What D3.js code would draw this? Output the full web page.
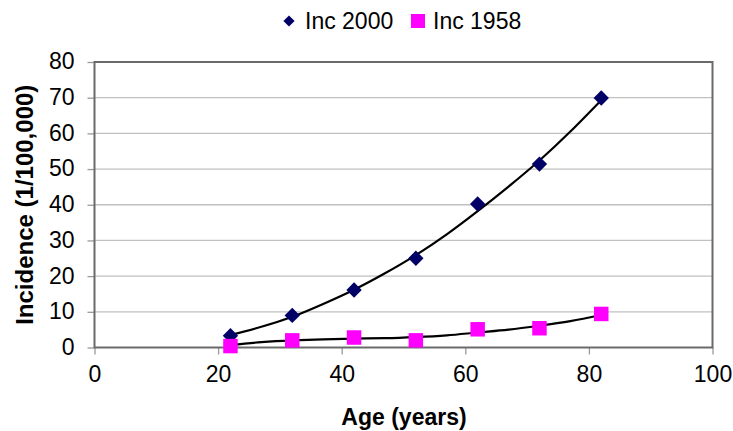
<!DOCTYPE html>
<html>
<head>
<meta charset="utf-8">
<script src="https://cdn.jsdelivr.net/npm/d3@7"></script>
<style>
  html, body { margin: 0; padding: 0; background: #fff; }
  svg { display: block; font-family: "Liberation Sans", Arial, sans-serif; }
</style>
</head>
<body>
<svg id="chart" width="733" height="431"></svg>
<script>
// ---- data ----
const ages = [22, 32, 42, 52, 62, 72, 82];
const inc2000 = [3.3, 9.0, 16.1, 25.0, 40.2, 51.4, 69.9];
const inc1958 = [0.4, 2.0, 2.8, 2.0, 5.1, 5.4, 9.4];
const trendAges = [22, 27, 32, 37, 42, 47, 52, 57, 62, 67, 72, 77, 82];
const trend2000 = [3.5, 5.8, 8.6, 12.2, 16.2, 20.8, 25.9, 31.7, 38.2, 45.1, 52.4, 60.5, 69.3];
const trend1958 = [0.7, 1.5, 2.0, 2.3, 2.5, 2.6, 2.9, 3.4, 4.2, 5.0, 6.1, 7.4, 9.1];
const xTicks = [0, 20, 40, 60, 80, 100];
const yTicks = [0, 10, 20, 30, 40, 50, 60, 70, 80];
const seriesNames = ["Inc 2000", "Inc 1958"];
const xTitle = "Age (years)";
const yTitle = "Incidence (1/100,000)";

// ---- layout ----
const svg = d3.select("#chart");
const L = 94.5, R = 712.5, T = 62, B = 347.5;
const x = d3.scaleLinear().domain([0, 100]).range([L, R]);
const y = d3.scaleLinear().domain([0, 80]).range([B, T]);
const font = 23;

// gridlines
svg.append("g").selectAll("line").data(yTicks.filter(d => d > 0 && d < 80)).join("line")
  .attr("x1", L).attr("x2", R).attr("y1", d => y(d)).attr("y2", d => y(d))
  .attr("stroke", "#c0c0c0").attr("stroke-width", 1.3);

// y axis
const yAxis = svg.append("g").attr("transform", `translate(${L},0)`)
  .call(d3.axisLeft(y).tickValues(yTicks).tickSize(7).tickPadding(13));
yAxis.select(".domain").remove();
yAxis.selectAll(".tick line").attr("stroke", "#9a9a9a").attr("stroke-width", 1.3);
yAxis.selectAll(".tick text").attr("font-size", font).attr("fill", "#000")
  .attr("font-family", "'Liberation Sans', Arial, sans-serif").attr("dy", "0.3em");

// x axis
const xAxis = svg.append("g").attr("transform", `translate(0,${B})`)
  .call(d3.axisBottom(x).tickValues(xTicks).tickSize(7).tickPadding(11));
xAxis.select(".domain").remove();
xAxis.selectAll(".tick line").attr("stroke", "#9a9a9a").attr("stroke-width", 1.3);
xAxis.selectAll(".tick text").attr("font-size", font).attr("fill", "#000")
  .attr("font-family", "'Liberation Sans', Arial, sans-serif");

// plot frame
svg.append("rect").attr("x", L).attr("y", T).attr("width", R - L).attr("height", B - T)
  .attr("fill", "none").attr("stroke", "#6a6a6a").attr("stroke-width", 2);

// trend lines
const line = d3.line().x(d => x(d[0])).y(d => y(d[1])).curve(d3.curveNatural);
[trend2000, trend1958].forEach(t => {
  svg.append("path").datum(trendAges.map((a, i) => [a, t[i]]))
    .attr("d", line).attr("fill", "none").attr("stroke", "#000").attr("stroke-width", 2.2);
});

// markers
const diamond = d3.symbol().type(d3.symbolDiamond2).size(150);
const square = d3.symbol().type(d3.symbolSquare).size(210);
svg.append("g").selectAll("path").data(ages.map((a, i) => [a, inc2000[i]])).join("path")
  .attr("transform", d => `translate(${x(d[0])},${y(d[1])})`)
  .attr("d", diamond).attr("fill", "#000066");
svg.append("g").selectAll("path").data(ages.map((a, i) => [a, inc1958[i]])).join("path")
  .attr("transform", d => `translate(${x(d[0])},${y(d[1])})`)
  .attr("d", square).attr("fill", "#ff00ff");

// legend
const leg = svg.append("g");
leg.append("path").attr("transform", "translate(289,21)").attr("d", d3.symbol().type(d3.symbolDiamond2).size(80)).attr("fill", "#000066");
leg.append("text").attr("x", 305).attr("y", 29).attr("font-size", 23).text(seriesNames[0]);
leg.append("rect").attr("x", 411).attr("y", 14).attr("width", 14).attr("height", 14).attr("fill", "#ff00ff");
leg.append("text").attr("x", 433).attr("y", 29).attr("font-size", 23).text(seriesNames[1]);

// axis titles
svg.append("text").attr("x", 404).attr("y", 425).attr("text-anchor", "middle")
  .attr("font-size", 23).attr("font-weight", "bold").text(xTitle);
svg.append("text").attr("transform", `translate(33,${(T + B) / 2}) rotate(-90)`)
  .attr("text-anchor", "middle").attr("font-size", 24).attr("font-weight", "bold").text(yTitle);
</script>
</body>
</html>
